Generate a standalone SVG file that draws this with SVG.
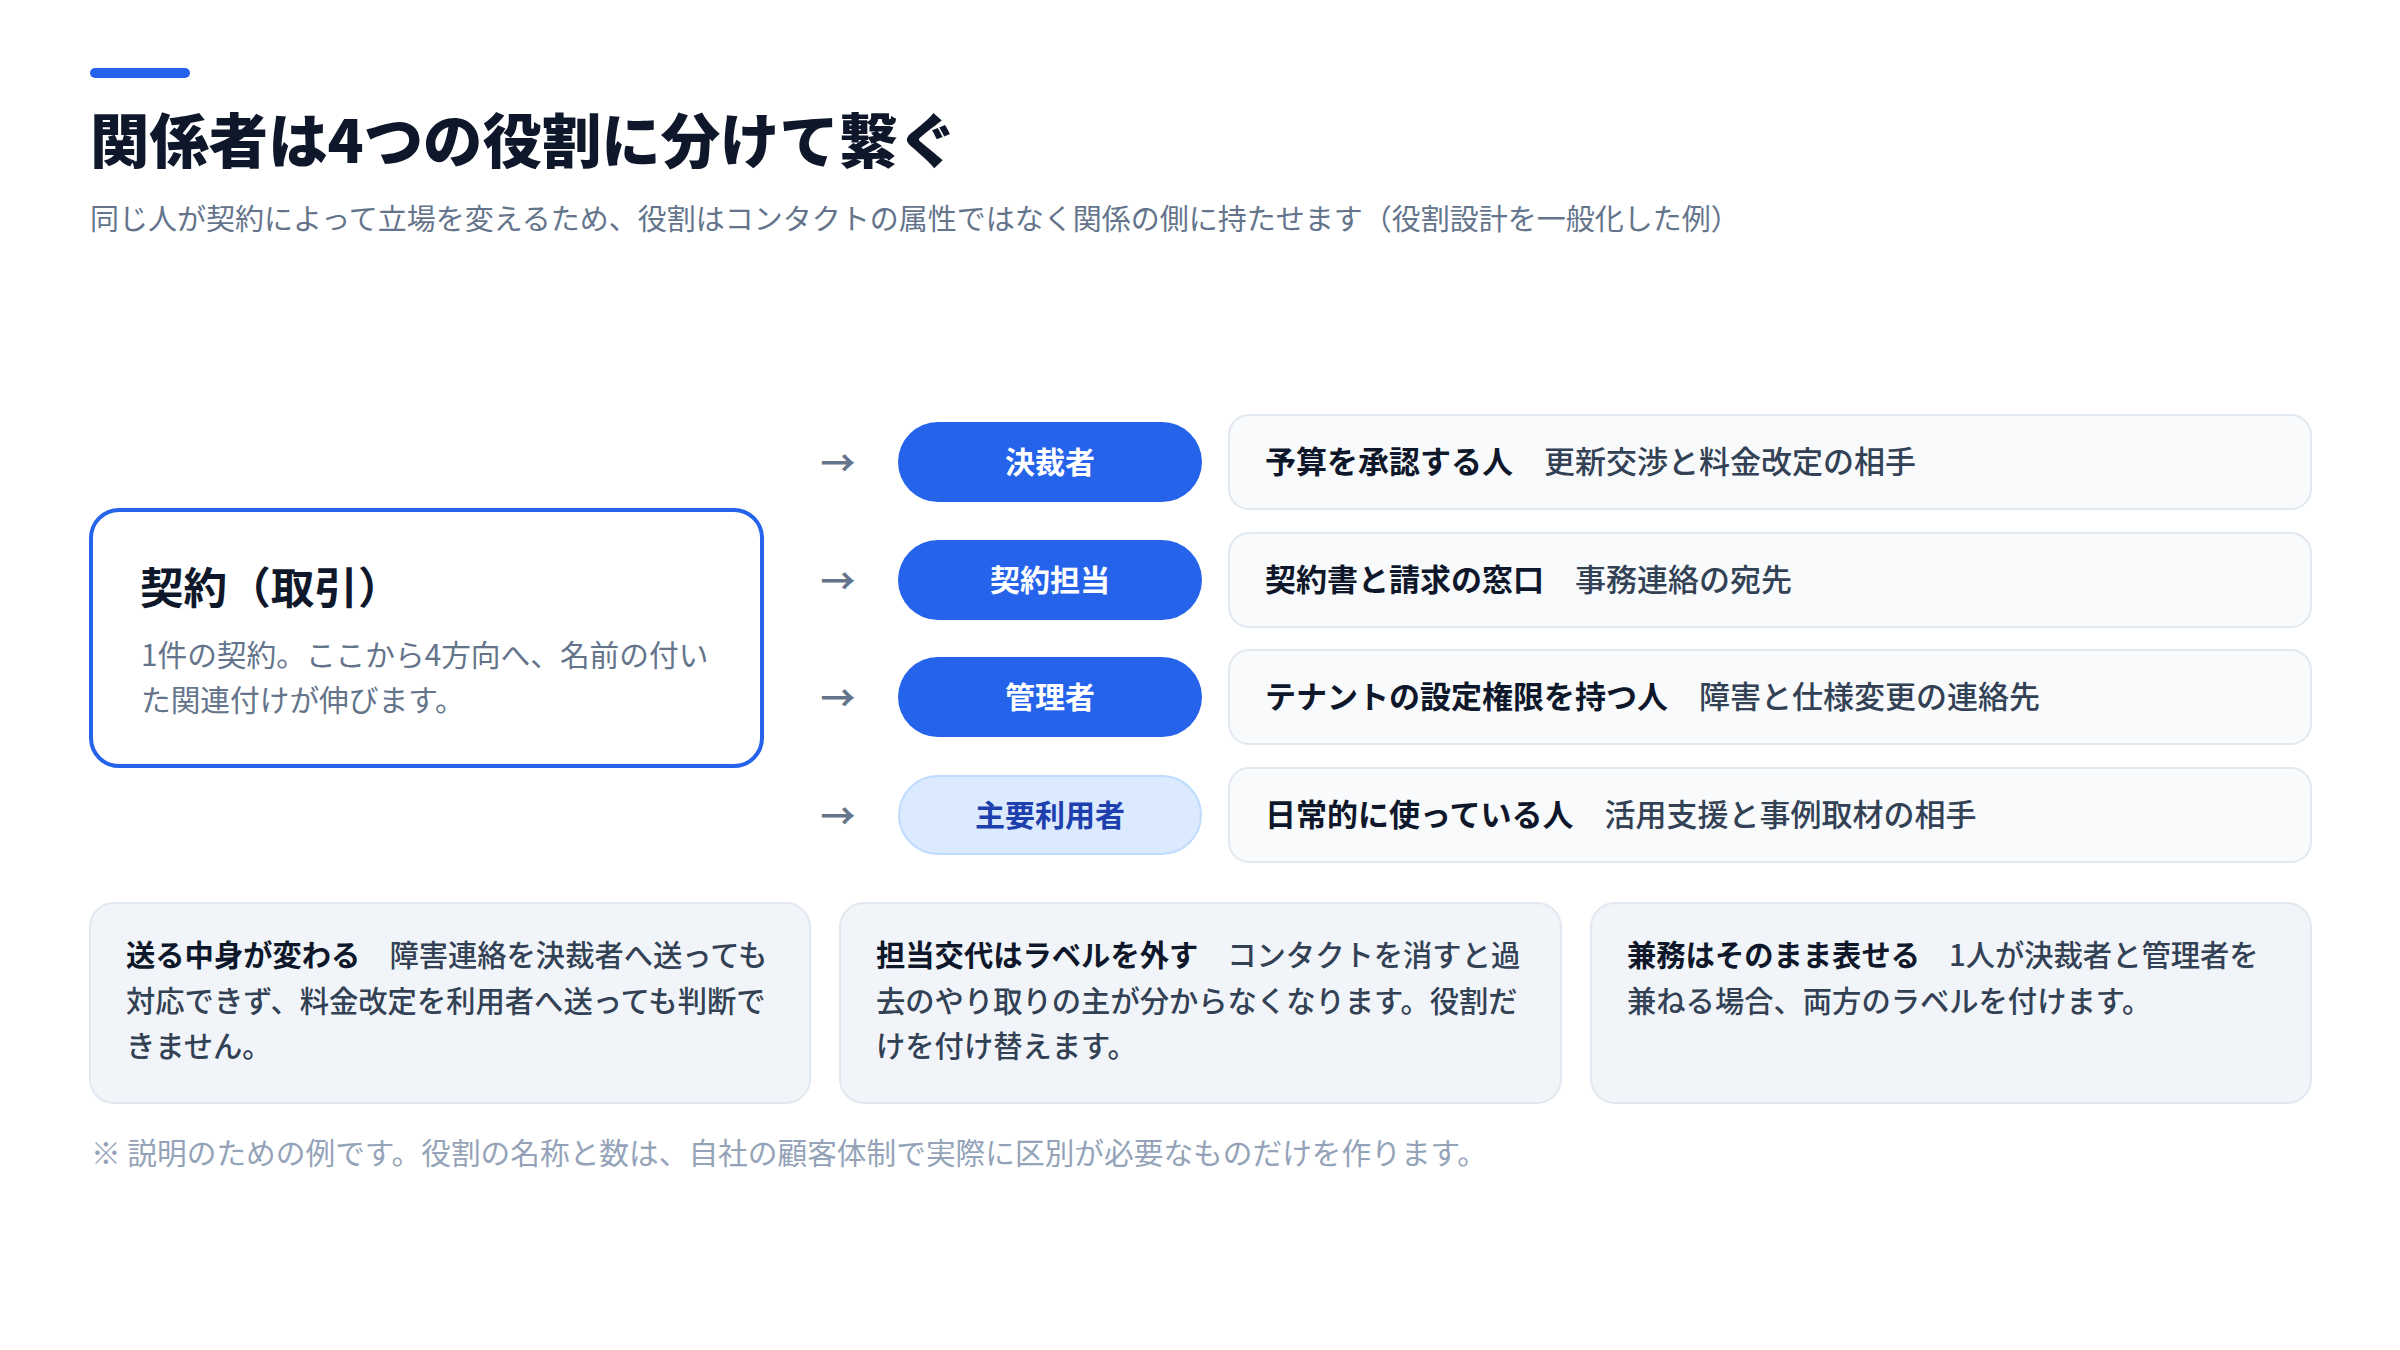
<svg xmlns="http://www.w3.org/2000/svg" width="2400" height="1350" viewBox="0 0 2400 1350">
<defs>
<style>
text{font-family:"Noto Sans CJK JP","Noto Sans",sans-serif;dominant-baseline:central}
.title{font-size:59.4px;font-weight:800;fill:#0F172A}
.sub{font-size:29px;font-weight:400;fill:#64748B}
.box{fill:#FFFFFF;stroke:#2563EB;stroke-width:4}
.ctitle{font-size:43.6px;font-weight:700;fill:#0F172A}
.cdesc{font-size:29.7px;font-weight:400;fill:#64748B}
.arrow{font-size:35px;font-weight:700;fill:#64748B;text-anchor:middle}
.pill{fill:#2563EB}
.pillt{font-size:30px;font-weight:700;fill:#FFFFFF;text-anchor:middle}
.pill-l{fill:#DBEAFE;stroke:#BFDBFE;stroke-width:2}
.pillt-l{font-size:30px;font-weight:700;fill:#1E40AF;text-anchor:middle}
.row{fill:#F8FAFC;stroke:#E2E8F0;stroke-width:2}
.rowt{font-size:31px;font-weight:700;fill:#0F172A}
.rown{font-weight:500;fill:#334155}
.card{fill:#F1F5F9;stroke:#E2E8F0;stroke-width:2}
.cardt{font-size:29.3px;font-weight:500;fill:#334155}
.b{font-weight:700;fill:#0F172A}
.note{font-size:29.7px;font-weight:400;fill:#94A3B8}
</style>
</defs>
<rect width="2400" height="1350" fill="#FFFFFF"/>

<g id="header">
<rect x="90" y="68" width="100" height="10" rx="5" fill="#2563EB"/>
<text class="title" x="90" y="137">関係者は4つの役割に分けて繋ぐ</text>
<text class="sub" x="90" y="217">同じ人が契約によって立場を変えるため、役割はコンタクトの属性ではなく関係の側に持たせます（役割設計を一般化した例）</text>
</g>

<g id="contract">
<rect class="box" x="91" y="510" width="671" height="256" rx="28"/>
<text class="ctitle" x="140" y="585">契約（取引）</text>
<text class="cdesc" x="141" y="653">1件の契約。ここから4方向へ、名前の付い</text>
<text class="cdesc" x="141" y="698">た関連付けが伸びます。</text>
</g>

<g id="connectors">
<text class="arrow" x="838" y="460">→</text>
<text class="arrow" x="838" y="578">→</text>
<text class="arrow" x="838" y="695">→</text>
<text class="arrow" x="838" y="813">→</text>
</g>

<g id="role-kessaisha">
<rect class="pill" x="898" y="422" width="304" height="80" rx="40"/>
<text class="pillt" x="1050" y="460">決裁者</text>
</g>
<g id="role-keiyakutanto">
<rect class="pill" x="898" y="540" width="304" height="80" rx="40"/>
<text class="pillt" x="1050" y="578">契約担当</text>
</g>
<g id="role-kanrisha">
<rect class="pill" x="898" y="657" width="304" height="80" rx="40"/>
<text class="pillt" x="1050" y="695">管理者</text>
</g>
<g id="role-shuyoriyosha">
<rect class="pill-l" x="899" y="776" width="302" height="78" rx="39"/>
<text class="pillt-l" x="1050" y="813">主要利用者</text>
</g>

<g id="desc-kessaisha">
<rect class="row" x="1229" y="415" width="1082" height="94" rx="20"/>
<text class="rowt" x="1265" y="459">予算を承認する人<tspan class="rown" dx="31">更新交渉と料金改定の相手</tspan></text>
</g>
<g id="desc-keiyakutanto">
<rect class="row" x="1229" y="533" width="1082" height="94" rx="20"/>
<text class="rowt" x="1265" y="577">契約書と請求の窓口<tspan class="rown" dx="31">事務連絡の宛先</tspan></text>
</g>
<g id="desc-kanrisha">
<rect class="row" x="1229" y="650" width="1082" height="94" rx="20"/>
<text class="rowt" x="1265" y="694">テナントの設定権限を持つ人<tspan class="rown" dx="31">障害と仕様変更の連絡先</tspan></text>
</g>
<g id="desc-shuyoriyosha">
<rect class="row" x="1229" y="768" width="1082" height="94" rx="20"/>
<text class="rowt" x="1265" y="812">日常的に使っている人<tspan class="rown" dx="31">活用支援と事例取材の相手</tspan></text>
</g>

<g id="card-1">
<rect class="card" x="90" y="903" width="720" height="200" rx="24"/>
<text class="cardt" x="126" y="953"><tspan class="b">送る中身が変わる</tspan><tspan dx="29">障害連絡を決裁者へ送っても</tspan></text>
<text class="cardt" x="126" y="999">対応できず、料金改定を利用者へ送っても判断で</text>
<text class="cardt" x="126" y="1044">きません。</text>
</g>
<g id="card-2">
<rect class="card" x="840" y="903" width="721" height="200" rx="24"/>
<text class="cardt" x="876" y="953"><tspan class="b">担当交代はラベルを外す</tspan><tspan dx="29">コンタクトを消すと過</tspan></text>
<text class="cardt" x="876" y="999">去のやり取りの主が分からなくなります。役割だ</text>
<text class="cardt" x="876" y="1044">けを付け替えます。</text>
</g>
<g id="card-3">
<rect class="card" x="1591" y="903" width="720" height="200" rx="24"/>
<text class="cardt" x="1627" y="953"><tspan class="b">兼務はそのまま表せる</tspan><tspan dx="29">1人が決裁者と管理者を</tspan></text>
<text class="cardt" x="1627" y="999">兼ねる場合、両方のラベルを付けます。</text>
</g>

<g id="footnote">
<text class="note" x="91" y="1151">※ 説明のための例です。役割の名称と数は、自社の顧客体制で実際に区別が必要なものだけを作ります。</text>
</g>
</svg>
